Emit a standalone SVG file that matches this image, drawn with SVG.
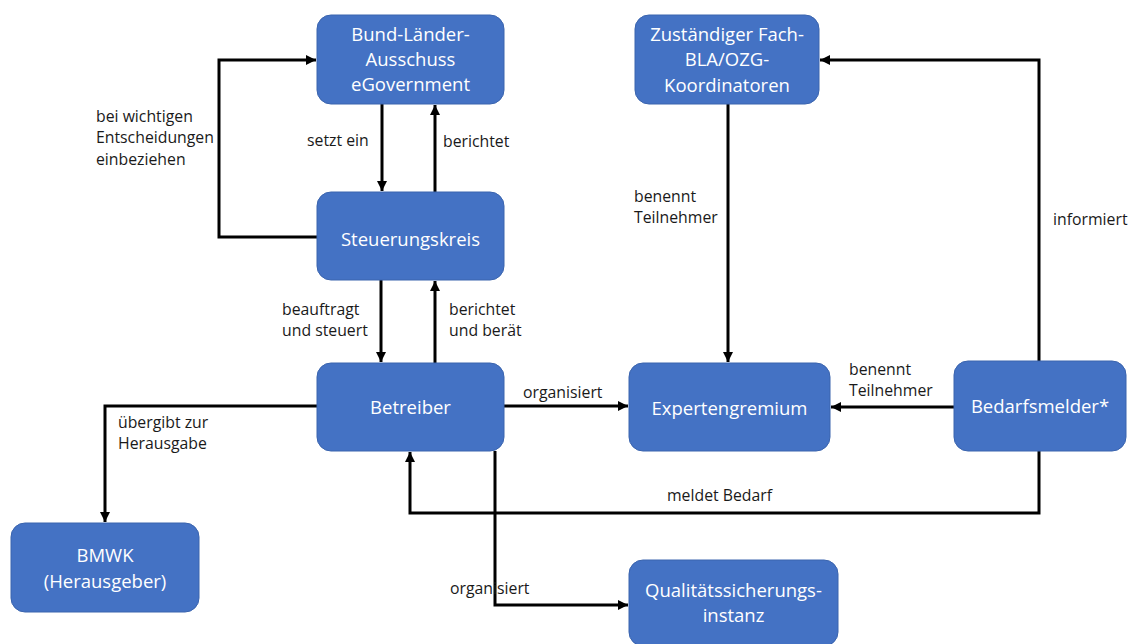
<svg xmlns="http://www.w3.org/2000/svg" width="1129" height="644" viewBox="0 0 1129 644">
<style>
.node rect{fill:#4472C4;stroke:#3A64AE;stroke-width:1}
.node text{font-family:"Open Sans","Liberation Sans",sans-serif;font-size:18.5px;fill:#FFFFFF;text-anchor:middle}
.lbl{font-family:"Open Sans","Liberation Sans",sans-serif;font-size:15.8px;fill:#1A1A1A}
.conn path{fill:none;stroke:#000;stroke-width:3;stroke-linejoin:miter}
</style>
<defs>
<marker id="ah" markerUnits="userSpaceOnUse" markerWidth="11" markerHeight="10" refX="10" refY="5" orient="auto">
<path d="M0,0 L10,5 L0,10 z" fill="#000"/>
</marker>
</defs>
<rect width="1129" height="644" fill="#FFFFFF"/>
<g id="connectors" class="conn">
<path d="M382,104 L382,191" marker-end="url(#ah)"/>
<path d="M435,192 L435,105" marker-end="url(#ah)"/>
<path d="M317,237 L219,237 L219,60 L316,60" marker-end="url(#ah)"/>
<path d="M381,280 L381,362" marker-end="url(#ah)"/>
<path d="M435,363 L435,281" marker-end="url(#ah)"/>
<path d="M504,406 L628,406" marker-end="url(#ah)"/>
<path d="M317,406 L105,406 L105,522" marker-end="url(#ah)"/>
<path d="M728,104 L728,362" marker-end="url(#ah)"/>
<path d="M954,407 L831,407" marker-end="url(#ah)"/>
<path d="M1039,361 L1039,60 L820,60" marker-end="url(#ah)"/>
<path d="M1039,451 L1039,513 L410,513 L410,452" marker-end="url(#ah)"/>
<path d="M495,451 L495,605 L628,605" marker-end="url(#ah)"/>
</g>
<g id="labels">
<text class="lbl" x="96" y="122">bei wichtigen</text>
<text class="lbl" x="96" y="143">Entscheidungen</text>
<text class="lbl" x="96" y="165">einbeziehen</text>
<text class="lbl" x="307" y="146">setzt ein</text>
<text class="lbl" x="443" y="147">berichtet</text>
<text class="lbl" x="282" y="315">beauftragt</text>
<text class="lbl" x="282" y="336">und steuert</text>
<text class="lbl" x="449" y="315">berichtet</text>
<text class="lbl" x="449" y="336">und berät</text>
<text class="lbl" x="523" y="398">organisiert</text>
<text class="lbl" x="118" y="428">übergibt zur</text>
<text class="lbl" x="118" y="449">Herausgabe</text>
<text class="lbl" x="634" y="202">benennt</text>
<text class="lbl" x="634" y="223">Teilnehmer</text>
<text class="lbl" x="1053" y="225">informiert</text>
<text class="lbl" x="849" y="375">benennt</text>
<text class="lbl" x="849" y="396">Teilnehmer</text>
<text class="lbl" x="667" y="501">meldet Bedarf</text>
<text class="lbl" x="450" y="594">organisiert</text>
</g>
<g id="n-bla" class="node">
<rect x="317" y="15" width="187" height="89" rx="14"/>
<text x="410.5" y="41">Bund-Länder-</text>
<text x="410.5" y="66">Ausschuss</text>
<text x="410.5" y="91">eGovernment</text>
</g>
<g id="n-fach" class="node">
<rect x="635" y="15" width="184" height="89" rx="14"/>
<text x="727" y="41">Zuständiger Fach-</text>
<text x="727" y="66">BLA/OZG-</text>
<text x="727" y="92">Koordinatoren</text>
</g>
<g id="n-steuer" class="node">
<rect x="317" y="192" width="187" height="88" rx="14"/>
<text x="410.5" y="246">Steuerungskreis</text>
</g>
<g id="n-betreiber" class="node">
<rect x="317" y="363" width="187" height="88" rx="14"/>
<text x="410.5" y="414">Betreiber</text>
</g>
<g id="n-experten" class="node">
<rect x="629" y="363" width="201" height="88" rx="14"/>
<text x="729.5" y="415">Expertengremium</text>
</g>
<g id="n-bedarf" class="node">
<rect x="954" y="361" width="172" height="90" rx="14"/>
<text x="1040" y="413">Bedarfsmelder*</text>
</g>
<g id="n-bmwk" class="node">
<rect x="11" y="523" width="188" height="89" rx="14"/>
<text x="105" y="562">BMWK</text>
<text x="105" y="588">(Herausgeber)</text>
</g>
<g id="n-qs" class="node">
<rect x="629" y="560" width="209" height="86" rx="14"/>
<text x="733.5" y="597">Qualitätssicherungs-</text>
<text x="733.5" y="622">instanz</text>
</g>
</svg>
